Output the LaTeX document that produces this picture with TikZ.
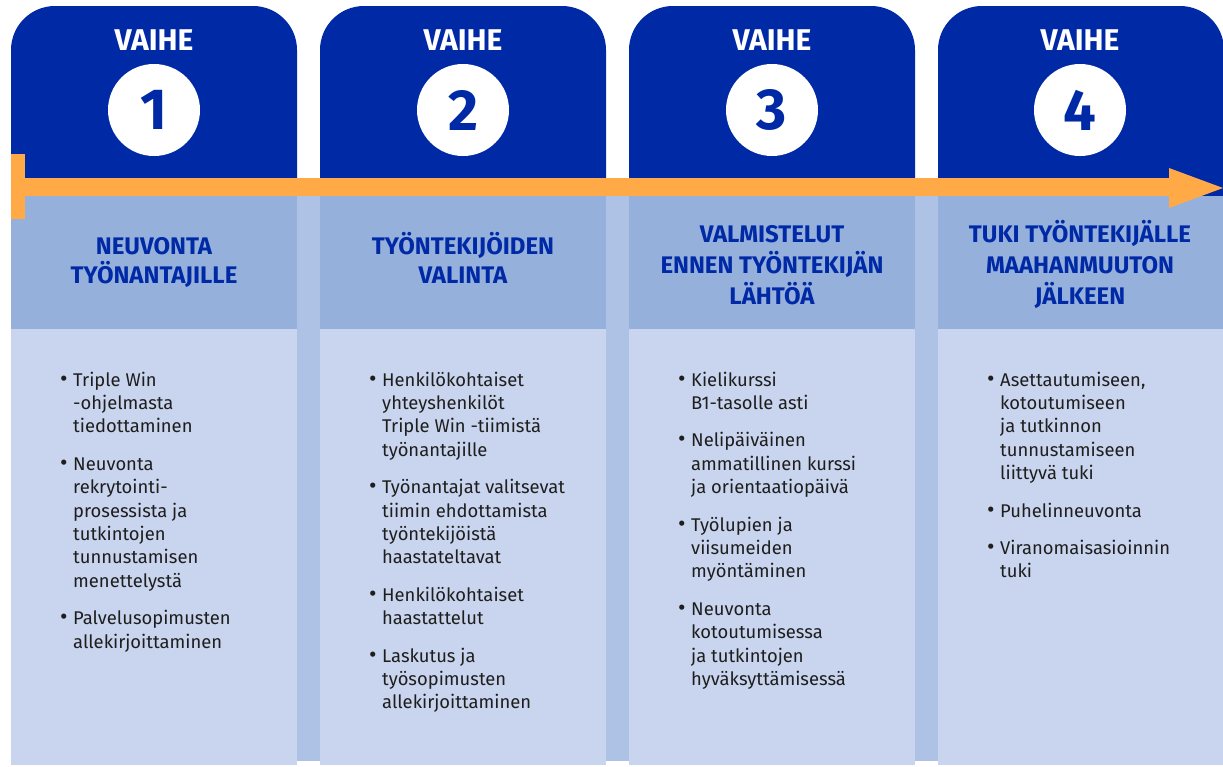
\documentclass[tikz,border=0pt]{standalone}
\usepackage{fontspec}
\setmainfont{Fira Sans}
\definecolor{dark}{HTML}{0029A6}
\definecolor{orng}{HTML}{FFAA46}
\definecolor{headblue}{HTML}{96B0DC}
\definecolor{bodyblue}{HTML}{C9D5EE}
\definecolor{stripblue}{HTML}{AEC2E5}
\definecolor{txt}{HTML}{1E1E1E}
\newcommand\ctrlines[2]{\vtop{\baselineskip=#1\lineskiplimit=-100pt\halign{\hfil##\hfil\cr#2\crcr}}}
\newcommand\blist[1]{\vtop{\baselineskip=23.4pt\lineskiplimit=-100pt\halign{##\hfil&##\hfil\cr#1\crcr}}}
\newcommand\bi{\makebox[13pt][l]{\scalebox{1.25}{\textbullet}}}
\newcommand\gp{\noalign{\vskip 14pt}}
\begin{document}
\begin{tikzpicture}[x=1pt,y=-1pt,
  darkbox/.style={fill=dark, rounded corners=44pt, minimum width=286pt, minimum height=224pt, anchor=north west, inner sep=0pt, outer sep=0pt},
  headpanel/.style={fill=headblue, minimum width=286pt, minimum height=133pt, anchor=north west, inner sep=0pt, outer sep=0pt},
  bodypanel/.style={fill=bodyblue, minimum width=286pt, minimum height=436pt, anchor=north west, inner sep=0pt, outer sep=0pt},
  numcircle/.style={circle, fill=white, minimum size=92pt, inner sep=0pt, text=dark, font=\fontsize{58}{58}\selectfont\bfseries},
  vaihe/.style={text=white, font=\fontsize{30}{30}\selectfont\bfseries, anchor=base, inner sep=0pt},
  title/.style={text=dark, font=\fontsize{24}{30}\selectfont\bfseries, anchor=base, inner sep=0pt},
  bodytext/.style={text=txt, font=\fontsize{18.4}{23.4}\selectfont, anchor=base west, inner sep=0pt}]
\useasboundingbox (0,0) rectangle (1223,766);
\fill[white] (0,0) rectangle (1223,766);
% strips between columns
\fill[stripblue] (11,196) rectangle (1223,761);
% dark top boxes
\foreach \l/\n in {11/1,320/2,629/3,938/4}{
  \node[darkbox] (top\n) at (\l,6) {};
}
% header and body panels
\foreach \l/\n in {11/1,320/2,629/3,938/4}{
  \node[headpanel] (head\n) at (\l,196) {};
  \node[bodypanel] (body\n) at (\l,329) {};
}
% orange timeline
\fill[orng] (11,178) rectangle (1170,196);
\fill[orng] (1169,168) -- (1223,188) -- (1169,208) -- cycle;
\fill[orng] (11,154) rectangle (25,219);
% VAIHE labels and numbers
\foreach \c/\n in {154/1,463/2,772/3,1080/4}{
  \node[vaihe] (vaihe\n) at (\c,50) {VAIHE};
  \node[numcircle] (num\n) at (\c,110) {\n};
}
% titles
\node[title] (t1) at (154,254) {\ctrlines{29.5pt}{NEUVONTA\cr TYÖNANTAJILLE}};
\node[title] (t2) at (463,254) {\ctrlines{29.5pt}{TYÖNTEKIJÖIDEN\cr VALINTA}};
\node[title] (t3) at (772,242) {\ctrlines{31pt}{VALMISTELUT\cr ENNEN TYÖNTEKIJÄN\cr LÄHTÖÄ}};
\node[title] (t4) at (1080,242) {\ctrlines{31pt}{TUKI TYÖNTEKIJÄLLE\cr MAAHANMUUTON\cr JÄLKEEN}};
% body lists
\node[bodytext] (l1) at (60,386) {\blist{\bi&Triple Win\cr &-ohjelmasta\cr &tiedottaminen\cr\gp
 \bi&Neuvonta\cr &rekrytointi-\cr &prosessista ja\cr &tutkintojen\cr &tunnustamisen\cr &menettelystä\cr\gp
 \bi&Palvelusopimusten\cr &allekirjoittaminen}};
\node[bodytext] (l2) at (369,386) {\blist{\bi&Henkilökohtaiset\cr &yhteyshenkilöt\cr &Triple Win -tiimistä\cr &työnantajille\cr\gp
 \bi&Työnantajat valitsevat\cr &tiimin ehdottamista\cr &työntekijöistä\cr &haastateltavat\cr\gp
 \bi&Henkilökohtaiset\cr &haastattelut\cr\gp
 \bi&Laskutus ja\cr &työsopimusten\cr &allekirjoittaminen}};
\node[bodytext] (l3) at (678,386) {\blist{\bi&Kielikurssi\cr &B1-tasolle asti\cr\gp
 \bi&Nelipäiväinen\cr &ammatillinen kurssi\cr &ja orientaatiopäivä\cr\gp
 \bi&Työlupien ja\cr &viisumeiden\cr &myöntäminen\cr\gp
 \bi&Neuvonta\cr &kotoutumisessa\cr &ja tutkintojen\cr &hyväksyttämisessä}};
\node[bodytext] (l4) at (987,386) {\blist{\bi&Asettautumiseen,\cr &kotoutumiseen\cr &ja tutkinnon\cr &tunnustamiseen\cr &liittyvä tuki\cr\gp
 \bi&Puhelinneuvonta\cr\gp
 \bi&Viranomaisasioinnin\cr &tuki}};
\end{tikzpicture}
\end{document}
